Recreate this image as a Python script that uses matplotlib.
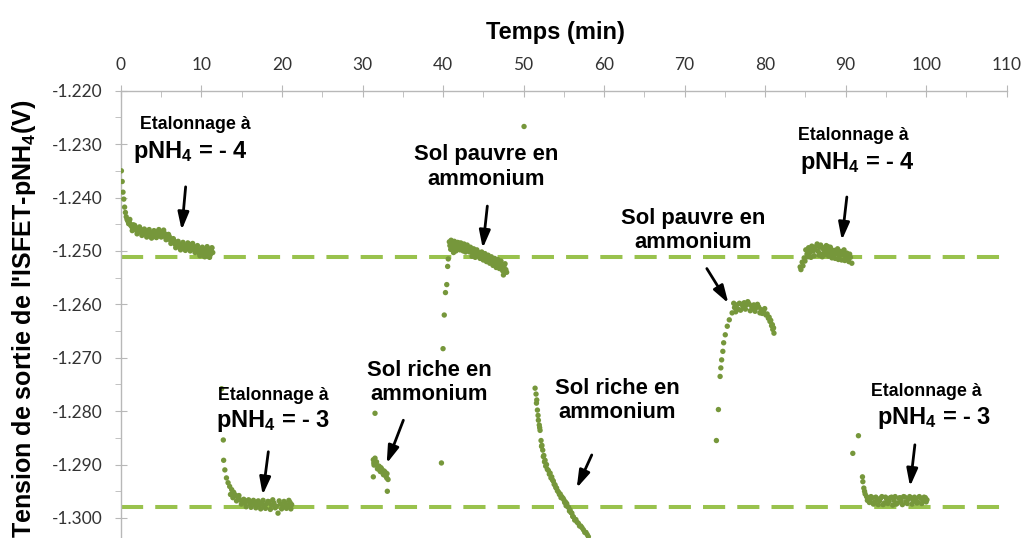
import matplotlib
matplotlib.use('Agg')
import matplotlib.pyplot as plt
import numpy as np
from matplotlib.ticker import MultipleLocator, FormatStrFormatter

plt.rcParams['font.family'] = ['Liberation Sans', 'DejaVu Sans']
plt.rcParams['mathtext.fontset'] = 'custom'
plt.rcParams['mathtext.rm'] = 'Liberation Sans:bold'
plt.rcParams['mathtext.it'] = 'Liberation Sans:bold'
plt.rcParams['mathtext.bf'] = 'Liberation Sans:bold'

# Etalonnage pNH4 = -4 (debut)
t1 = [0.05, 0.15, 0.25, 0.35, 0.45, 0.55, 0.65, 0.75, 0.85, 0.95, 1.05, 1.2, 1.35, 1.5,
      1.65, 1.8, 1.95, 2.1, 2.25, 2.4, 2.55, 2.7, 2.85, 3.0, 3.15, 3.3, 3.45, 3.6, 3.75,
      3.9, 4.05, 4.2, 4.35, 4.5, 4.65, 4.8, 4.95, 5.1, 5.25, 5.4, 5.55, 5.7, 5.85, 6.0,
      6.15, 6.3, 6.45, 6.6, 6.75, 6.9, 7.05, 7.2, 7.35, 7.5, 7.65, 7.8, 7.95, 8.1, 8.25,
      8.4, 8.55, 8.7, 8.85, 9.0, 9.15, 9.3, 9.45, 9.6, 9.75, 9.9, 10.05, 10.2, 10.35,
      10.5, 10.65, 10.8, 10.95, 11.1, 11.25, 11.4,
      1.1, 1.4, 1.7, 2.0, 2.3, 2.6, 2.9, 3.2, 3.5, 3.8, 4.1, 4.4, 4.7, 5.0, 5.3, 5.6,
      5.9, 6.2, 6.5, 6.8, 7.1, 7.4, 7.7, 8.0, 8.3, 8.6, 8.9, 9.2, 9.5, 9.8, 10.1, 10.4,
      10.7, 11.0, 11.3]
v1 = [-1.2350, -1.2370, -1.2390, -1.2403, -1.2418, -1.2428, -1.2436, -1.2441, -1.2444,
      -1.2449, -1.2447, -1.2452, -1.2455, -1.2451, -1.2459, -1.2456, -1.2462, -1.2458,
      -1.2464, -1.2460, -1.2466, -1.2461, -1.2468, -1.2463, -1.2469, -1.2464, -1.2471,
      -1.2465, -1.2470, -1.2467, -1.2473, -1.2466, -1.2470, -1.2464, -1.2469, -1.2463,
      -1.2468, -1.2466, -1.2472, -1.2467, -1.2474, -1.2470, -1.2477, -1.2473, -1.2480,
      -1.2478, -1.2484, -1.2481, -1.2488, -1.2485, -1.2491, -1.2487, -1.2493, -1.2489,
      -1.2494, -1.2490, -1.2495, -1.2491, -1.2489, -1.2494, -1.2488, -1.2495, -1.2491,
      -1.2497, -1.2493, -1.2499, -1.2494, -1.2503, -1.2498, -1.2506, -1.2500, -1.2508,
      -1.2497, -1.2504, -1.2496, -1.2509, -1.2500, -1.2507, -1.2495, -1.2503,
      -1.2441, -1.2462, -1.2452, -1.2468, -1.2455, -1.2471, -1.2459, -1.2474, -1.2460,
      -1.2476, -1.2462, -1.2475, -1.2460, -1.2474, -1.2461, -1.2479, -1.2469, -1.2486,
      -1.2477, -1.2494, -1.2482, -1.2498, -1.2484, -1.2499, -1.2485, -1.2500, -1.2486,
      -1.2503, -1.2490, -1.2509, -1.2493, -1.2511, -1.2492, -1.2512, -1.2494]

# Etalonnage pNH4 = -3 (debut)
t2 = [12.5, 12.71, 12.75, 12.9, 13.1, 13.3, 13.5, 13.75, 14.0, 14.2, 14.5, 14.8, 15.1,
      15.4, 15.7, 16.0, 16.3, 16.6, 16.9, 17.2, 17.5, 17.8, 18.1, 18.4, 18.7, 19.0,
      19.3, 19.5, 19.8, 20.1, 20.4, 20.7, 21.0, 21.2,
      13.6, 13.9, 14.35, 14.65, 14.95, 15.25, 15.55, 15.85, 16.15, 16.45, 16.75, 17.05,
      17.35, 17.65, 17.95, 18.25, 18.55, 18.85, 19.15, 19.65, 19.95, 20.25, 20.55,
      20.85, 21.1]
v2 = [-1.2758, -1.2854, -1.2892, -1.2910, -1.2925, -1.2934, -1.2941, -1.2947, -1.2952,
      -1.2957, -1.2961, -1.2966, -1.2969, -1.2972, -1.2968, -1.2974, -1.2970, -1.2975,
      -1.2971, -1.2976, -1.2972, -1.2977, -1.2973, -1.2970, -1.2976, -1.2972, -1.2978,
      -1.2991, -1.2974, -1.2979, -1.2972, -1.2977, -1.2971, -1.2975,
      -1.2956, -1.2962, -1.2968, -1.2958, -1.2974, -1.2965, -1.2979, -1.2966, -1.2980,
      -1.2967, -1.2981, -1.2968, -1.2983, -1.2967, -1.2982, -1.2969, -1.2984, -1.2966,
      -1.2981, -1.2968, -1.2983, -1.2969, -1.2982, -1.2967, -1.2983]

# Sol riche en ammonium (1)
t3 = [31.34, 31.43, 31.55, 31.55, 31.74, 31.93, 32.13, 32.3, 32.48, 32.67, 32.86, 33.04,
      33.08, 33.17, 31.34, 31.4, 31.65, 31.85, 32.05, 32.2, 32.4, 32.6, 32.8, 33.0]
v3 = [-1.2891, -1.2901, -1.2804, -1.2888, -1.2895, -1.2903, -1.2910, -1.2906, -1.2915,
      -1.2912, -1.2921, -1.2917, -1.2950, -1.2928, -1.2923, -1.2897, -1.2899, -1.2908,
      -1.2903, -1.2913, -1.2909, -1.2919, -1.2914, -1.2925]

# Sol pauvre en ammonium (1)
t4 = [39.8, 40.0, 40.15, 40.3, 40.46, 40.57, 40.65, 40.78, 40.95, 41.1, 41.3, 41.5,
      41.7, 41.9, 42.1, 42.3, 42.5, 42.7, 42.9, 43.1, 43.3, 43.5, 43.7, 43.9, 44.1,
      44.3, 44.5, 44.7, 44.9, 45.1, 45.3, 45.5, 45.7, 45.9, 46.1, 46.3, 46.5, 46.7,
      46.9, 47.1, 47.3, 47.5, 47.6, 47.8, 50.06,
      40.85, 41.0, 41.2, 41.4, 41.6, 41.8, 42.0, 42.2, 42.4, 42.6, 42.8, 43.0, 43.2,
      43.4, 43.6, 43.8, 44.0, 44.2, 44.4, 44.6, 44.8, 45.0, 45.2, 45.4, 45.6, 45.8,
      46.0, 46.2, 46.4, 46.6, 46.8, 47.0, 47.2, 47.4, 47.7, 47.9]
v4 = [-1.2897, -1.2683, -1.2620, -1.2578, -1.2563, -1.2529, -1.2515, -1.2483, -1.2497,
      -1.2486, -1.2503, -1.2489, -1.2494, -1.2485, -1.2498, -1.2489, -1.2500, -1.2491,
      -1.2496, -1.2493, -1.2502, -1.2498, -1.2505, -1.2500, -1.2507, -1.2503, -1.2509,
      -1.2506, -1.2512, -1.2508, -1.2514, -1.2510, -1.2517, -1.2514, -1.2520, -1.2516,
      -1.2523, -1.2519, -1.2526, -1.2522, -1.2530, -1.2545, -1.2527, -1.2535, -1.2267,
      -1.2490, -1.2480, -1.2494, -1.2482, -1.2500, -1.2484, -1.2493, -1.2485, -1.2497,
      -1.2487, -1.2502, -1.2489, -1.2497, -1.2493, -1.2510, -1.2496, -1.2512, -1.2498,
      -1.2503, -1.2514, -1.2502, -1.2517, -1.2505, -1.2520, -1.2508, -1.2523, -1.2511,
      -1.2527, -1.2514, -1.2531, -1.2516, -1.2533, -1.2519, -1.2537, -1.2524, -1.2540]

# Sol riche en ammonium (2)
t5 = [51.43, 51.55, 51.64, 51.72, 51.84, 51.95, 52.05, 52.17, 52.28, 52.38, 52.52, 52.67,
      52.85, 53.08, 53.3, 53.5, 53.7, 53.91, 54.1, 54.32, 54.55, 54.74, 55.0, 55.2,
      55.36, 55.58, 55.78, 56.0, 56.19, 56.5, 56.81, 57.1, 57.43, 57.75, 58.05,
      51.6, 51.8, 52.0, 52.23, 52.45, 52.6, 52.75, 52.95, 53.2, 53.4, 53.6, 53.8, 54.0,
      54.2, 54.45, 54.65, 54.9, 55.1, 55.28, 55.5, 55.7, 55.9, 56.1, 56.35, 56.65,
      56.95, 57.25, 57.6, 57.9]
v5 = [-1.2757, -1.2768, -1.2779, -1.2798, -1.2817, -1.2826, -1.2836, -1.2855, -1.2864,
      -1.2873, -1.2883, -1.2892, -1.2900, -1.2911, -1.2916, -1.2923, -1.2931, -1.2938,
      -1.2944, -1.2951, -1.2955, -1.2960, -1.2966, -1.2970, -1.2973, -1.2980, -1.2985,
      -1.2991, -1.2998, -1.3003, -1.3010, -1.3015, -1.3022, -1.3027, -1.3035,
      -1.2785, -1.2808, -1.2831, -1.2866, -1.2885, -1.2895, -1.2903, -1.2909, -1.2918,
      -1.2925, -1.2929, -1.2937, -1.2943, -1.2949, -1.2956, -1.2962, -1.2963, -1.2971,
      -1.2977, -1.2979, -1.2987, -1.2990, -1.2997, -1.3004, -1.3008, -1.3015, -1.3018,
      -1.3027, -1.3031]

# Sol pauvre en ammonium (2)
t6 = [73.95, 74.2, 74.41, 74.5, 74.6, 74.75, 74.85, 75.05, 75.3, 75.55, 75.9, 76.2,
      76.35, 76.5, 76.8, 76.95, 77.1, 77.4, 77.55, 77.7, 78.0, 78.15, 78.3, 78.6, 78.75,
      78.9, 79.2, 79.35, 79.5, 79.8, 80.1, 80.4, 80.6, 80.8, 80.95, 81.1,
      76.1, 76.65, 77.25, 77.85, 78.45, 79.05, 79.65, 79.95, 80.25, 80.5, 80.7, 80.9,
      81.05]
v6 = [-1.2855, -1.2797, -1.2735, -1.2719, -1.2704, -1.2688, -1.2672, -1.2657, -1.2641,
      -1.2629, -1.2616, -1.2606, -1.2614, -1.2601, -1.2598, -1.2611, -1.2600, -1.2597,
      -1.2609, -1.2601, -1.2599, -1.2612, -1.2603, -1.2601, -1.2613, -1.2606, -1.2605,
      -1.2616, -1.2610, -1.2612, -1.2620, -1.2626, -1.2632, -1.2640, -1.2647, -1.2654,
      -1.2598, -1.2609, -1.2604, -1.2595, -1.2608, -1.2600, -1.2617, -1.2608, -1.2618,
      -1.2624, -1.2630, -1.2638, -1.2644]

# Etalonnage pNH4 = -4 (fin)
t7 = [84.35, 84.6, 84.85, 85.05, 85.2, 85.4, 85.6, 85.8, 86.0, 86.2, 86.46, 86.6, 86.8,
      87.0, 87.2, 87.4, 87.6, 87.8, 88.0, 88.2, 88.4, 88.6, 88.8, 89.0, 89.2, 89.4,
      89.6, 89.8, 90.0, 90.15, 90.3, 90.5, 90.77,
      84.45, 84.7, 84.95, 85.3, 85.5, 85.7, 85.9, 86.1, 86.3, 86.7, 86.9, 87.1, 87.3,
      87.5, 87.7, 87.9, 88.1, 88.3, 88.5, 88.7, 88.9, 89.1, 89.3, 89.5, 89.7, 89.9,
      90.1, 90.4, 90.6]
v7 = [-1.2530, -1.2521, -1.2513, -1.2498, -1.2506, -1.2494, -1.2503, -1.2491, -1.2500,
      -1.2495, -1.2487, -1.2501, -1.2493, -1.2506, -1.2496, -1.2502, -1.2490, -1.2492,
      -1.2504, -1.2497, -1.2508, -1.2499, -1.2505, -1.2496, -1.2510, -1.2501, -1.2507,
      -1.2498, -1.2512, -1.2504, -1.2513, -1.2506, -1.2523,
      -1.2535, -1.2528, -1.2519, -1.2511, -1.2500, -1.2512, -1.2497, -1.2509, -1.2492,
      -1.2508, -1.2489, -1.2511, -1.2494, -1.2507, -1.2498, -1.2510, -1.2493, -1.2513,
      -1.2501, -1.2514, -1.2499, -1.2516, -1.2503, -1.2517, -1.2505, -1.2518, -1.2509,
      -1.2520, -1.2512]

# Etalonnage pNH4 = -3 (fin)
t8 = [90.89, 91.59, 92.09, 92.14, 92.26, 92.42, 92.6, 92.8, 93.04, 93.3, 93.6, 93.9,
      94.2, 94.5, 94.8, 95.1, 95.4, 95.7, 96.0, 96.3, 96.6, 96.9, 97.2, 97.5, 97.8,
      98.1, 98.4, 98.7, 99.0, 99.3, 99.6, 99.9, 100.1,
      92.35, 92.7, 92.95, 93.15, 93.45, 93.75, 94.05, 94.35, 94.65, 94.95, 95.25, 95.55,
      95.85, 96.15, 96.45, 96.75, 97.05, 97.35, 97.65, 97.95, 98.25, 98.55, 98.85,
      99.15, 99.45, 99.75, 100.0]
v8 = [-1.2879, -1.2846, -1.2923, -1.2932, -1.2944, -1.2955, -1.2960, -1.2963, -1.2966,
      -1.2962, -1.2970, -1.2964, -1.2968, -1.2960, -1.2972, -1.2965, -1.2969, -1.2961,
      -1.2967, -1.2974, -1.2963, -1.2968, -1.2960, -1.2970, -1.2965, -1.2962, -1.2969,
      -1.2964, -1.2971, -1.2963, -1.2967, -1.2962, -1.2966,
      -1.2950, -1.2967, -1.2971, -1.2960, -1.2974, -1.2961, -1.2975, -1.2963, -1.2975,
      -1.2961, -1.2973, -1.2962, -1.2976, -1.2960, -1.2972, -1.2962, -1.2975, -1.2961,
      -1.2973, -1.2960, -1.2974, -1.2961, -1.2972, -1.2960, -1.2973, -1.2961, -1.2970]

niveaux = [-1.2511, -1.2980]

temps = np.concatenate([t1, t2, t3, t4, t5, t6, t7, t8])
tension = np.concatenate([v1, v2, v3, v4, v5, v6, v7, v8])

fig = plt.figure(figsize=(10.27, 5.38), dpi=100)
ax = fig.add_axes([0.1178, 0.0, 0.8624, 0.8314])

for n in niveaux:
    ax.axhline(n, color='#99C24D', lw=2.9, dashes=(5.5, 3), zorder=1)

ax.scatter(temps, tension, s=15, color='#76973B', edgecolors='none', zorder=3)

ax.set_xlim(0, 110)
ax.set_ylim(-1.30375, -1.220)
ax.xaxis.tick_top()
ax.xaxis.set_major_locator(MultipleLocator(10))
ax.xaxis.set_minor_locator(MultipleLocator(5))
ax.yaxis.set_major_locator(MultipleLocator(0.01))
ax.yaxis.set_minor_locator(MultipleLocator(0.005))
ax.yaxis.set_major_formatter(FormatStrFormatter('%.3f'))

for s in ['right', 'bottom']:
    ax.spines[s].set_visible(False)
for s in ['top', 'left']:
    ax.spines[s].set_color('#b8b8b8')
    ax.spines[s].set_linewidth(1.0)

ax.tick_params(axis='x', which='major', direction='inout', length=9, color='#b8b8b8',
               pad=8, labelsize=12.5, labelcolor='#333333')
ax.tick_params(axis='x', which='minor', direction='in', length=4.5, color='#b8b8b8')
ax.tick_params(axis='y', which='major', direction='inout', length=9, color='#b8b8b8',
               pad=9, labelsize=12.5, labelcolor='#333333')
ax.tick_params(axis='y', which='minor', direction='out', length=4.5, color='#b8b8b8')
for lab in ax.get_xticklabels() + ax.get_yticklabels():
    lab.set_fontfamily('Lato')

ax.text(0.491, 1.131, 'Temps (min)', transform=ax.transAxes, ha='center', va='center',
        fontsize=17, fontweight='bold')
ax.text(-0.1095, 0.49, "Tension de sortie de l'ISFET-pNH$_4$(V)", transform=ax.transAxes,
        rotation=90, ha='center', va='center', fontsize=18, fontweight='bold')


def fleche(tail, tip):
    ax.annotate('', xy=tip, xytext=tail,
                arrowprops=dict(arrowstyle='-|>,head_length=0.7,head_width=0.22',
                                color='black', lw=2, mutation_scale=15,
                                shrinkA=0, shrinkB=0))


def etalonnage(x, y1, y2, ph, tail, tip):
    ax.text(x[0], y1, 'Etalonnage à', ha='center', va='center', fontsize=12.8,
            fontweight='bold')
    ax.text(x[1], y2, 'pNH$_4$ = - ' + ph, ha='center', va='center', fontsize=17,
            fontweight='bold')
    fleche(tail, tip)


def sol(x, y, txt, tail, tip):
    ax.text(x, y, txt, ha='center', va='center', fontsize=15.8, fontweight='bold',
            linespacing=1.2)
    fleche(tail, tip)


etalonnage((9.2, 8.6), -1.2264, -1.2315, '4', (8.03, -1.2380), (7.54, -1.2461))
etalonnage((90.9, 91.5), -1.2283, -1.2335, '4', (90.15, -1.2399), (89.53, -1.2480))
etalonnage((18.9, 18.9), -1.2770, -1.2818, '3', (18.30, -1.2876), (17.60, -1.2957))
etalonnage((100.0, 101.0), -1.2764, -1.2813, '3', (98.6, -1.2863), (98.0, -1.2941))
sol(45.3, -1.2343, 'Sol pauvre en\nammonium', (45.5, -1.2416), (44.93, -1.2495))
sol(71.1, -1.2462, 'Sol pauvre en\nammonium', (72.76, -1.2533), (75.44, -1.2598))
sol(38.3, -1.2746, 'Sol riche en\nammonium', (35.07, -1.2817), (33.0, -1.2898))
sol(61.6, -1.2780, 'Sol riche en\nammonium', (58.47, -1.2882), (56.6, -1.2944))

fig.savefig('out.png', dpi=100)
